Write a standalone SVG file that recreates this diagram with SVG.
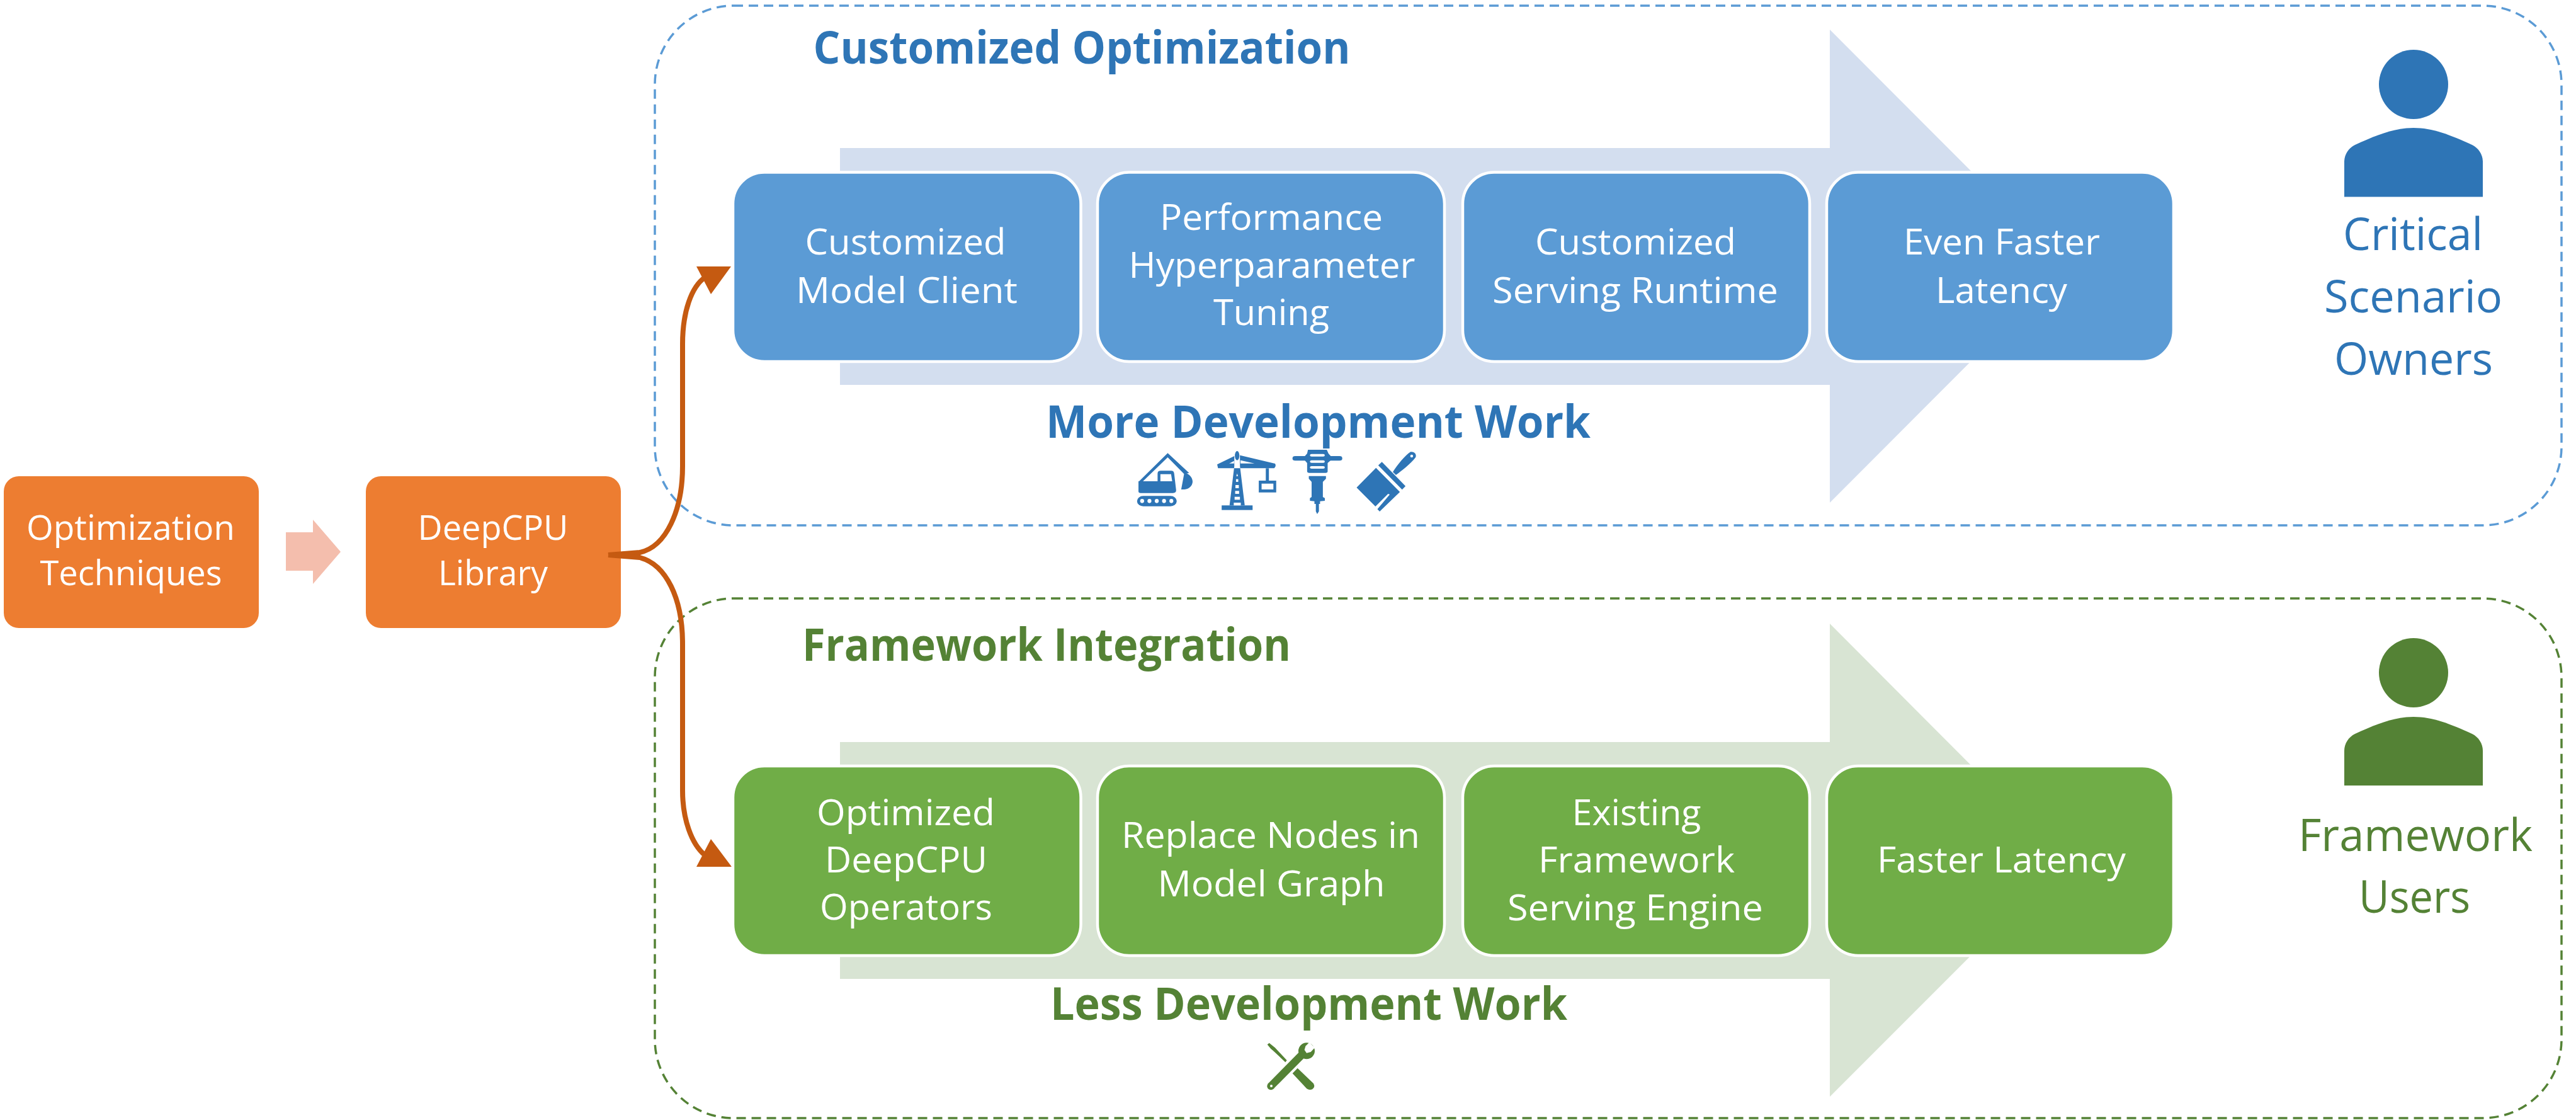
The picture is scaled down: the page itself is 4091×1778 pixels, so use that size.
<svg xmlns="http://www.w3.org/2000/svg" width="4091" height="1778" viewBox="0 0 4091 1778">
<style>
text{font-family:"Open Sans","Liberation Sans",sans-serif;text-anchor:middle}
.w{fill:#fff;font-size:57px}
.o{fill:#fff;font-size:55px}
.big{font-size:72px}
.t{font-size:72px;font-weight:700}
.db{fill:#2E75B6}
.dg{fill:#548235}
.frame{fill:none;stroke-width:3.5;stroke-dasharray:15 9}
.bb{fill:#5B9BD5;stroke:#fff;stroke-width:4.500}
.gb{fill:#70AD47;stroke:#fff;stroke-width:4.500}
.ob{fill:#ED7D31}
.conn{fill:none;stroke:#C55A11;stroke-width:8}
.head{fill:#C55A11}
.hole{fill:#fff}
</style>
<rect width="4091" height="1778" fill="#fff"/>

<g id="frame-customized"><rect class="frame" style="stroke:#5B9BD5" x="1040" y="9" width="3028" height="825" rx="125"/></g>
<g id="frame-framework"><rect class="frame" style="stroke:#548235" x="1040" y="950" width="3028" height="825" rx="125"/></g>

<g id="arrow-blue"><polygon fill="#D3DEEF" points="1334,235 2906,235 2906,47 3281,422.500 2906,798 2906,611 1334,611"/></g>
<g id="arrow-green"><polygon fill="#D8E4D3" points="1334,1178 2906,1178 2906,990 3281,1366 2906,1741 2906,1554 1334,1554"/></g>

<g id="title-customized"><text class="t db" x="1718" y="101" textLength="853" lengthAdjust="spacingAndGlyphs">Customized Optimization</text></g>
<g id="title-framework"><text class="t dg" x="1662" y="1049" textLength="776" lengthAdjust="spacingAndGlyphs">Framework Integration</text></g>
<g id="label-more"><text class="t db" x="2093.500" y="695" textLength="865" lengthAdjust="spacingAndGlyphs">More Development Work</text></g>
<g id="label-less"><text class="t dg" x="2078.500" y="1619" textLength="821" lengthAdjust="spacingAndGlyphs">Less Development Work</text></g>

<g id="node-optimization"><rect class="ob" x="6" y="756" width="405" height="241" rx="24"/>
<text class="o" x="207.500" y="857" textLength="331" lengthAdjust="spacingAndGlyphs">Optimization</text>
<text class="o" x="208" y="929" textLength="289" lengthAdjust="spacingAndGlyphs">Techniques</text></g>
<g id="pink-arrow"><polygon fill="#F4BEAD" points="454,845 497,845 497,825 541,876 497,927 497,906 454,906"/></g>
<g id="node-deepcpu"><rect class="ob" x="581" y="756" width="405" height="241" rx="24"/>
<text class="o" x="783" y="857" textLength="239" lengthAdjust="spacingAndGlyphs">DeepCPU</text>
<text class="o" x="783" y="929" textLength="174" lengthAdjust="spacingAndGlyphs">Library</text></g>

<g id="connectors">
<path class="conn" d="M966,881 L1016,877 C1058,868 1084,810 1084,740 V546 C1084,495 1098,455 1120,440"/>
<path class="conn" d="M966,881 L1016,885 C1058,896 1084,950 1084,1022 V1255 C1084,1300 1098,1340 1120,1358"/>
<polygon class="head" points="1106,423 1161,423 1129,467"/>
<polygon class="head" points="1106,1376 1162,1376 1129,1332"/>
</g>

<g id="node-b1"><rect class="bb" x="1164" y="273.500" width="552.500" height="300.500" rx="50"/>
<text class="w" x="1438" y="404" textLength="319" lengthAdjust="spacingAndGlyphs">Customized</text>
<text class="w" x="1440" y="480.500" textLength="352" lengthAdjust="spacingAndGlyphs">Model Client</text></g>
<g id="node-b2"><rect class="bb" x="1743" y="273.500" width="551" height="300.500" rx="50"/>
<text class="w" x="2019" y="365" textLength="354" lengthAdjust="spacingAndGlyphs">Performance</text>
<text class="w" x="2020" y="441" textLength="455" lengthAdjust="spacingAndGlyphs">Hyperparameter</text>
<text class="w" x="2019" y="516" textLength="184" lengthAdjust="spacingAndGlyphs">Tuning</text></g>
<g id="node-b3"><rect class="bb" x="2323" y="273.500" width="551" height="300.500" rx="50"/>
<text class="w" x="2597.500" y="404" textLength="319" lengthAdjust="spacingAndGlyphs">Customized</text>
<text class="w" x="2597" y="480.500" textLength="454" lengthAdjust="spacingAndGlyphs">Serving Runtime</text></g>
<g id="node-b4"><rect class="bb" x="2901" y="273.500" width="551" height="300.500" rx="50"/>
<text class="w" x="3179" y="404" textLength="312" lengthAdjust="spacingAndGlyphs">Even Faster</text>
<text class="w" x="3178.500" y="480.500" textLength="209" lengthAdjust="spacingAndGlyphs">Latency</text></g>

<g id="node-g1"><rect class="gb" x="1164" y="1216" width="552.500" height="301" rx="50"/>
<text class="w" x="1438.500" y="1309.500" textLength="283" lengthAdjust="spacingAndGlyphs">Optimized</text>
<text class="w" x="1439" y="1384.500" textLength="258" lengthAdjust="spacingAndGlyphs">DeepCPU</text>
<text class="w" x="1439" y="1460" textLength="274" lengthAdjust="spacingAndGlyphs">Operators</text></g>
<g id="node-g2"><rect class="gb" x="1743" y="1216" width="551" height="301" rx="50"/>
<text class="w" x="2018" y="1346" textLength="474" lengthAdjust="spacingAndGlyphs">Replace Nodes in</text>
<text class="w" x="2019" y="1423" textLength="361" lengthAdjust="spacingAndGlyphs">Model Graph</text></g>
<g id="node-g3"><rect class="gb" x="2323" y="1216" width="551" height="301" rx="50"/>
<text class="w" x="2599" y="1310" textLength="205" lengthAdjust="spacingAndGlyphs">Existing</text>
<text class="w" x="2599" y="1385" textLength="312" lengthAdjust="spacingAndGlyphs">Framework</text>
<text class="w" x="2597" y="1461" textLength="406" lengthAdjust="spacingAndGlyphs">Serving Engine</text></g>
<g id="node-g4"><rect class="gb" x="2901" y="1216" width="551" height="301" rx="50"/>
<text class="w" x="3178.500" y="1385" textLength="395" lengthAdjust="spacingAndGlyphs">Faster Latency</text></g>

<g id="person-critical" class="db">
<circle cx="3833" cy="134" r="55"/>
<path d="M3723,312.500 V257 C3723,245 3730,235 3740,230 C3775,214 3803,203 3833,203 C3863,203 3891,214 3926,230 C3936,235 3943,245 3943,257 V312.500 Z"/>
<text class="big db" x="3832" y="397" textLength="222" lengthAdjust="spacingAndGlyphs">Critical</text>
<text class="big db" x="3832.500" y="496" textLength="283" lengthAdjust="spacingAndGlyphs">Scenario</text>
<text class="big db" x="3833" y="595" textLength="252" lengthAdjust="spacingAndGlyphs">Owners</text>
</g>
<g id="person-framework" class="dg">
<circle cx="3833" cy="1068" r="55"/>
<path d="M3723,1247 V1192 C3723,1180 3730,1170 3740,1165 C3775,1149 3803,1138 3833,1138 C3863,1138 3891,1149 3926,1165 C3936,1170 3943,1180 3943,1192 V1247 Z"/>
<text class="big dg" x="3836" y="1350.500" textLength="372" lengthAdjust="spacingAndGlyphs">Framework</text>
<text class="big dg" x="3834.500" y="1449" textLength="177" lengthAdjust="spacingAndGlyphs">Users</text>
</g>

<g id="icons-more" class="db" transform="translate(1700 600) scale(0.4464 0.3333)">
<g id="icon-excavator">
<path d="M242,495 L346,358 L422,452 L405,458 L346,378 L258,492 Z"/>
<path d="M405,452 C425,455 437,480 434,500 C430,522 415,533 394,531 Z"/>
<path fill-rule="evenodd" d="M242,492 H310 V455 Q310,442 322,442 H358 Q368,442 369,455 L376,535 Q376,548 365,548 H250 Q242,548 242,540 Z M320,458 V492 H362 L358,458 Z"/>
<rect x="237" y="562" width="141" height="49" rx="22" ry="24"/>
<g class="hole"><ellipse cx="255" cy="586" rx="7" ry="10"/><ellipse cx="281" cy="586" rx="7" ry="10"/><ellipse cx="307" cy="586" rx="7" ry="10"/><ellipse cx="333" cy="586" rx="7" ry="10"/><ellipse cx="359" cy="586" rx="7" ry="10"/></g>
</g>
<g id="icon-crane">
<rect x="538" y="607" width="110" height="22"/>
<ellipse cx="593" cy="370" rx="8" ry="22"/>
<path d="M583,372 L522,412 L525,430 H725 Q733,420 728,408 L603,368 L603,420 L620,607 H566 L583,420 Z"/>
<polygon class="hole" points="565,407 582,395 582,407"/>
<polygon class="hole" points="605,392 605,407 655,407"/>
<g class="hole"><polygon points="590,468 593,455 596,468"/><rect x="589" y="482" width="8" height="13"/><rect x="587" y="510" width="12" height="15"/><rect x="586" y="538" width="14" height="14"/><rect x="584" y="566" width="19" height="14"/><rect x="581" y="594" width="25" height="13"/></g>
<rect x="695" y="430" width="11" height="60"/>
<path fill-rule="evenodd" d="M670,489 H732 V545 H670 Z M680,503 V531 H722 V503 Z"/>
</g>
<g id="icon-hammer">
<rect x="790" y="372" width="177" height="22" rx="10"/>
<path d="M845,342 H912 L918,360 L928,375 V390 L915,405 V445 Q915,452 908,452 H850 Q842,452 842,445 V405 L832,390 V375 L842,360 Z"/>
<g class="hole"><rect x="852" y="362" width="53" height="12" rx="6"/><rect x="852" y="392" width="53" height="12" rx="6"/><rect x="852" y="420" width="53" height="12" rx="6"/></g>
<polygon points="848,467 909,467 909,480 898,495 898,567 905,572 905,585 888,587 888,600 884,600 884,635 878,648 873,635 873,600 868,600 868,587 852,585 852,572 858,567 858,495 848,480"/>
</g>
<g id="icon-brush">
<polygon points="1087,428 1172,543 1100,636 1092,625 1136,555 1130,552 1085,612 1018,522"/>
<polygon points="1108,400 1192,515 1180,532 1095,416"/>
<path d="M1147,448 C1165,410 1190,370 1210,352 C1225,350 1232,365 1228,378 C1210,410 1180,440 1158,462 Z"/>
<ellipse class="hole" cx="1214" cy="372" rx="5" ry="7"/>
</g>
</g>

<g id="icon-tools" class="dg" transform="translate(1950 1620) scale(0.3333)">
<path d="M188,115 L197,107 L225,130 L281,190 L274,199 L215,143 L205,135 Z"/>
<path d="M332,227 L408,300 Q418,318 402,328 Q388,334 376,325 L308,252 Z"/>
<polygon points="190,302 338,152 362,180 218,325"/>
<circle cx="205" cy="313" r="18"/>
<circle cx="375" cy="145" r="39"/>
<polygon class="hole" points="388,104 414,130 395,150 375,155 365,140 370,122"/>
<circle class="hole" cx="207" cy="312" r="6"/>
</g>
</svg>
